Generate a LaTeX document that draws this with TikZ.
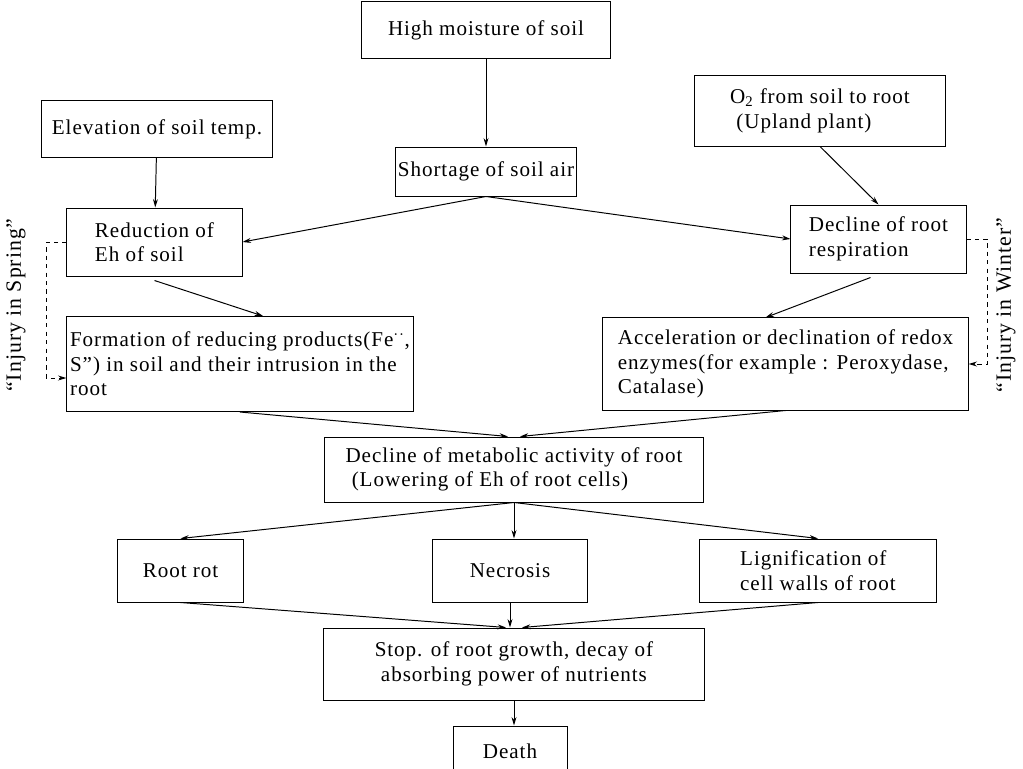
\documentclass[tikz,border=0pt]{standalone}
\usepackage{fontspec}
\setmainfont{Liberation Serif}[LetterSpace=4.5]
\usetikzlibrary{arrows.meta}

\tikzset{ box/.style={draw, line width=0.7pt, align=left, inner xsep=2pt, inner ysep=4pt,
            font=\fontsize{15}{17.5}\selectfont},
          arr/.style={line width=0.7pt, -{Stealth[length=6pt,width=3.5pt]}},
          side/.style={rotate=90, font=\fontsize{15.5}{17.5}\selectfont} }

\begin{document}
\begin{tikzpicture}[x=0.025cm, y=-0.025cm]
        \useasboundingbox (0,0) rectangle (1023,768);

        \node[box, minimum width=6.2cm, minimum height=1.4cm] (moist) at (486,30) {High moisture of soil};
        \node[box, minimum width=5.75cm, minimum height=1.4cm] (temp) at (157,129) {Elevation of soil temp.};
        \node[box, minimum width=6.25cm, minimum height=1.75cm] (oxy) at (820,111) {O\textsubscript{2} from soil to root\\\ (Upland plant)};
        \node[box, minimum width=4.2cm, minimum height=1.225cm] (air) at (486,171.5) {Shortage of soil air};
        \node[box, minimum width=4.375cm, minimum height=1.7cm] (eh) at (154.5,242) {Reduction of\\Eh of soil};
        \node[box, minimum width=4.375cm, minimum height=1.7cm] (resp) at (878.5,239) {Decline of root\\respiration};
        \node[box, minimum width=8.65cm, minimum height=2.375cm] (prod) at (240,364) {Formation of reducing products(Fe\textsuperscript{··},\\S”) in soil and their intrusion in the\\root};
        \node[box, minimum width=9.125cm, minimum height=2.3cm] (redox) at (785.5,364) {Acceleration or declination of redox\\enzymes(for example : Peroxydase,\\Catalase)};
        \node[box, minimum width=9.45cm, minimum height=1.625cm] (metab) at (514,469.5) {Decline of metabolic activity of root\\\ (Lowering of Eh of root cells)};
        \node[box, minimum width=3.125cm, minimum height=1.575cm] (rot) at (180.5,570.5) {Root rot};
        \node[box, minimum width=3.85cm, minimum height=1.575cm] (necro) at (510,570.5) {Necrosis};
        \node[box, minimum width=5.9cm, minimum height=1.575cm] (lign) at (818,570.5) {Lignification of\\cell walls of root};
        \node[box, minimum width=9.5cm, minimum height=1.8cm] (stop) at (514,664) {Stop. of root growth, decay of\\\ absorbing power of nutrients};
        \node[box, minimum width=2.85cm, minimum height=1.25cm] (death) at (510,751) {Death};

        \node[side] (spring) at (16,305) {“Injury in Spring”};
        \node[side] (winter) at (1006,305) {“Injury in Winter”};

        \path[arr] (moist) edge (air)
              (temp) edge (eh)
              (oxy.south) edge (resp.north)
              (air.south) edge (eh.east)
              (air.south) edge (resp.west)
              ([yshift=-0.1cm]eh.south) edge ([xshift=0.575cm]prod.north)
              ([xshift=-0.2cm,yshift=-0.1cm]resp.south) edge ([xshift=-0.5cm]redox.north)
              (prod.south) edge ([xshift=-0.15cm]metab.north)
              (redox.south) edge ([xshift=0.15cm]metab.north)
              (metab.south) edge (rot.north)
              (metab.south) edge (metab.south |- necro.north)
              (metab.south) edge (lign.north)
              (rot.south) edge ([xshift=-0.2cm]stop.north)
              (necro.south) edge (necro.south |- stop.north)
              (lign.south) edge ([xshift=0.2cm]stop.north)
              (stop.south) edge (stop.south |- death.north);

        \draw[arr, dashed] (eh.west) -- ++(-0.5cm,0) |- ([yshift=-0.35cm]prod.west);
        \draw[arr, dashed] (resp.east) -- ++(0.525cm,0) |- (redox.east);
    \end{tikzpicture}
\end{document}
